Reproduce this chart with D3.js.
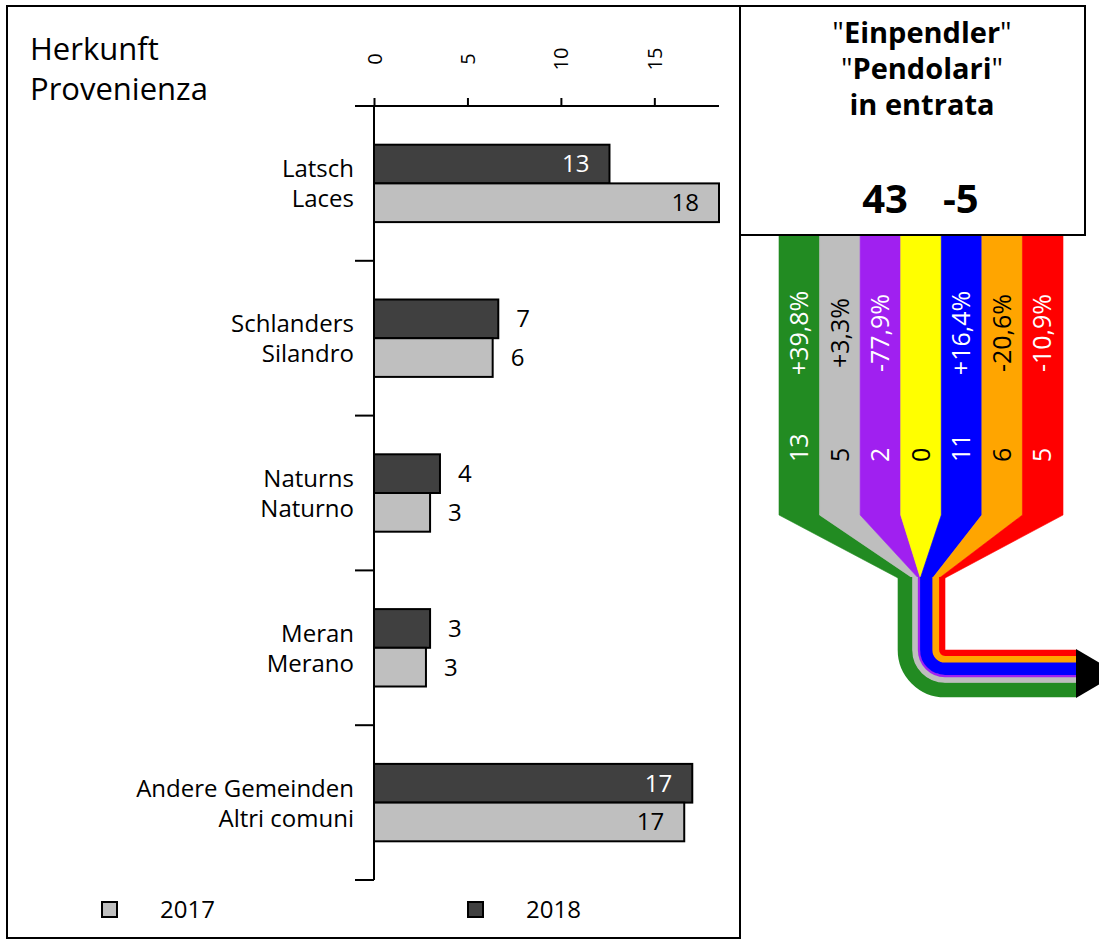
<!DOCTYPE html>
<html><head><meta charset="utf-8">
<script src="https://cdn.jsdelivr.net/npm/d3@7"></script>
<style>body{margin:0;background:#fff} svg text{font-family:"Open Sans",sans-serif}</style>
</head><body><svg id="c" width="1099" height="942"></svg>
<script>
// ---- data ----
const catDe = ["Latsch", "Schlanders", "Naturns", "Meran", "Andere Gemeinden"];
const catIt = ["Laces", "Silandro", "Naturno", "Merano", "Altri comuni"];
const values2018 = [12.6, 6.65, 3.53, 3.0, 17.03];
const values2017 = [18.46, 6.35, 3.0, 2.78, 16.6];
const xTicks = [0, 5, 10, 15];
const seriesNames = ["2017", "2018"];
const flowValues = [13, 5, 2, 0, 11, 6, 5];
const flowPct = ["+39,8%", "+3,3%", "-77,9%", "", "+16,4%", "-20,6%", "-10,9%"];
const totalNow = "43";
const totalChange = "-5";
const titleLeft = ["Herkunft", "Provenienza"];
const titleRight = ["Einpendler", "Pendolari", "in entrata"];

// ---- styles ----
const flowColors = ["#228B22", "#BEBEBE", "#A020F0", "#FFFF00", "#0000FF", "#FFA500", "#FF0000"];
const flowTextColors = ["#fff", "#000", "#fff", "#000", "#fff", "#000", "#fff"];
const col2017 = "#bfbfbf", col2018 = "#404040";

const svg = d3.select("#c");

// frames
svg.append("rect").attr("x", 7).attr("y", 6).attr("width", 733).attr("height", 932)
  .attr("fill", "#fff").attr("stroke", "#000").attr("stroke-width", 2);

// ---- flow (right) ----
const n = flowValues.length;
const sx = d3.scaleBand().domain(d3.range(n)).range([779, 1063]);
const total = d3.sum(flowValues);
const pw = d3.scaleLinear().domain([0, total]).range([0, 47]);
const pipeX = 898, cx = 945, cy = 650, topY = 235, stripeEnd = 515, funnelEnd = 578, pipeEndX = 1076;
const cum = [0, ...d3.cumsum(flowValues)];
const fg = svg.append("g");
flowValues.forEach((v, i) => {
  const x0 = sx(i), x1 = x0 + sx.bandwidth();
  const p0 = pipeX + pw(cum[i]), p1 = pipeX + pw(cum[i] + v);
  fg.append("polygon")
    .attr("points", [[x0, topY], [x1, topY], [x1, stripeEnd], [p1, funnelEnd], [p0, funnelEnd], [x0, stripeEnd]].map(p => p.join(",")).join(" "))
    .attr("fill", flowColors[i]).attr("stroke", flowColors[i]).attr("stroke-width", 0.6);
});
flowValues.forEach((v, i) => {
  if (v <= 0) return;
  const p0 = pipeX + pw(cum[i]), p1 = pipeX + pw(cum[i] + v);
  const xc = (p0 + p1) / 2, r = cx - xc;
  fg.append("path")
    .attr("d", `M${xc},${funnelEnd - 1} V${cy} A${r},${r} 0 0 0 ${cx},${cy + r} H${pipeEndX}`)
    .attr("fill", "none").attr("stroke", flowColors[i]).attr("stroke-width", pw(v) + 0.6);
});
fg.append("polygon")
  .attr("points", `${pipeEndX},${cy - 1} ${pipeEndX},${cy + pw(total) + 1} ${pipeEndX + 42},${cy + pw(total) / 2}`)
  .attr("fill", "#000");
flowValues.forEach((v, i) => {
  const xm = sx(i) + sx.bandwidth() / 2;
  if (flowPct[i]) {
    fg.append("text").attr("transform", `translate(${xm},333) rotate(-90)`)
      .attr("text-anchor", "middle").attr("dy", "0.35em")
      .attr("font-size", 25).attr("fill", flowTextColors[i]).text(flowPct[i]);
  }
  fg.append("text").attr("transform", `translate(${xm},462) rotate(-90)`)
    .attr("text-anchor", "start").attr("dy", "0.35em")
    .attr("font-size", 25).attr("fill", flowTextColors[i]).text(v);
});

// header box
svg.append("rect").attr("x", 740).attr("y", 6).attr("width", 345).attr("height", 229)
  .attr("fill", "#fff").attr("stroke", "#000").attr("stroke-width", 2);
const hx = 922;
[43, 79].forEach((yy, k) => {
  const t = svg.append("text").attr("x", hx).attr("y", yy).attr("text-anchor", "middle").attr("font-size", 29);
  t.append("tspan").text('"');
  t.append("tspan").attr("font-weight", "bold").text(titleRight[k]);
  t.append("tspan").text('"');
});
svg.append("text").attr("x", hx).attr("y", 115).attr("text-anchor", "middle").attr("font-size", 29)
  .attr("font-weight", "bold").text(titleRight[2]);
svg.append("text").attr("x", 908).attr("y", 213).attr("text-anchor", "end").attr("font-size", 40)
  .attr("font-weight", "bold").text(totalNow);
svg.append("text").attr("x", 943).attr("y", 213).attr("text-anchor", "start").attr("font-size", 40)
  .attr("font-weight", "bold").text(totalChange);

// ---- left bar chart ----
svg.append("text").attr("x", 30).attr("y", 60).attr("font-size", 31).text(titleLeft[0]);
svg.append("text").attr("x", 30).attr("y", 100).attr("font-size", 31).text(titleLeft[1]);

const x = d3.scaleLinear().domain([0, d3.max([...values2017, ...values2018])]).range([374, 719]);
const y = d3.scaleBand().domain(catDe).range([106, 880]);
const bw = y.bandwidth();

const ax = svg.append("g").attr("transform", "translate(0,106)")
  .call(d3.axisTop(x).tickValues(xTicks).tickSize(8).tickFormat(d3.format("d")));
ax.select(".domain").remove();
ax.selectAll(".tick line").attr("stroke-width", 2);
ax.selectAll(".tick text").attr("transform", "rotate(-90)").attr("x", 47).attr("y", 0)
  .attr("dy", "0.35em").attr("text-anchor", "middle").attr("font-size", 20)
  .attr("font-family", "Open Sans");
svg.append("line").attr("x1", 355).attr("x2", x.range()[1]).attr("y1", 106).attr("y2", 106)
  .attr("stroke", "#000").attr("stroke-width", 2);
svg.append("line").attr("x1", x(0)).attr("x2", x(0)).attr("y1", y.range()[0]).attr("y2", y.range()[1])
  .attr("stroke", "#000").attr("stroke-width", 2);
[...catDe.map(c => y(c)), y.range()[1]].forEach(b => {
  svg.append("line").attr("x1", 355).attr("x2", x(0)).attr("y1", b).attr("y2", b)
    .attr("stroke", "#000").attr("stroke-width", 2);
});

const bars = [
  { vals: values2018, off: 0.25, fill: col2018, inText: "#fff" },
  { vals: values2017, off: 0.5, fill: col2017, inText: "#000" }
];
bars.forEach(s => {
  const g = svg.append("g");
  g.selectAll("rect").data(catDe).join("rect")
    .attr("x", x(0)).attr("y", c => y(c) + bw * s.off)
    .attr("width", (c, i) => x(s.vals[i]) - x(0)).attr("height", bw * 0.25)
    .attr("fill", s.fill).attr("stroke", "#000").attr("stroke-width", 2);
  g.selectAll("text").data(catDe).join("text")
    .attr("x", (c, i) => s.vals[i] > 10 ? x(s.vals[i]) - 20 : x(s.vals[i]) + 18)
    .attr("y", c => y(c) + bw * (s.off + 0.125)).attr("dy", "0.35em")
    .attr("text-anchor", (c, i) => s.vals[i] > 10 ? "end" : "start")
    .attr("fill", (c, i) => s.vals[i] > 10 ? s.inText : "#000")
    .attr("font-size", 24).text((c, i) => Math.round(s.vals[i]));
});

catDe.forEach((c, i) => {
  const cm = y(c) + bw / 2;
  svg.append("text").attr("x", 354).attr("y", cm - 6).attr("text-anchor", "end").attr("font-size", 24).text(c);
  svg.append("text").attr("x", 354).attr("y", cm + 24).attr("text-anchor", "end").attr("font-size", 24).text(catIt[i]);
});

// legend
const legX = [[102, 160], [468, 526]];
const legFill = [col2017, col2018];
seriesNames.forEach((nm, k) => {
  svg.append("rect").attr("x", legX[k][0]).attr("y", 902).attr("width", 15).attr("height", 15)
    .attr("fill", legFill[k]).attr("stroke", "#000").attr("stroke-width", 2);
  svg.append("text").attr("x", legX[k][1]).attr("y", 918).attr("font-size", 24).text(nm);
});
</script></body></html>
